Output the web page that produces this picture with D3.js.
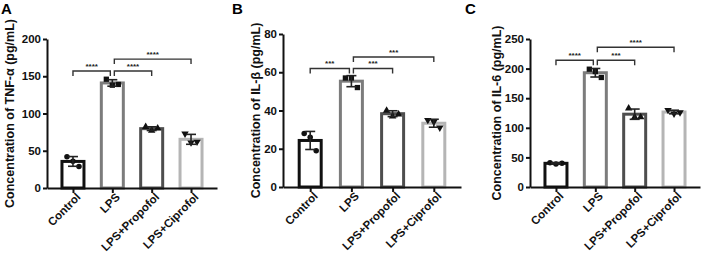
<!DOCTYPE html>
<html>
<head>
<meta charset="utf-8">
<script src="https://cdn.jsdelivr.net/npm/d3@7"></script>
<style>
  body { margin: 0; background: #fff; }
</style>
</head>
<body>
<script>
var width = 702, height = 258;

var groups = ["Control", "LPS", "LPS+Propofol", "LPS+Ciprofol"];
var barColors = ["#111111", "#7c7c7c", "#4e4e4e", "#b5b5b5"];
var shapes = [d3.symbolCircle, d3.symbolSquare, d3.symbolTriangle, "down"];

// replicate values per group
var tnfValues = [[42, 36, 29], [146, 138, 139], [82, 77, 80], [73, 61, 62]];
var il1bValues = [[28, 26, 19], [57, 57, 52], [40, 37, 38], [35, 34, 31]];
var il6Values = [[41, 39, 40], [199, 195, 185], [133, 118, 118], [130, 124, 126]];

var tnfTicks = [0, 50, 100, 150, 200];
var il1bTicks = [0, 20, 40, 60, 80];
var il6Ticks = [0, 50, 100, 150, 200, 250];

// brackets: [from group, to group, level, stars]
var tnfSig = [[0, 1, 157, "****"], [1, 2, 157, "****"], [1, 3, 173, "****"]];
var il1bSig = [[0, 1, 62, "***"], [1, 2, 62, "***"], [1, 3, 68, "***"]];
var il6Sig = [[0, 1, 214, "****"], [1, 2, 214, "***"], [1, 3, 236, "****"]];

var panels = [
  {letter: "A", lx: 1, title: "Concentration of TNF-\u03b1 (pg/mL)", values: tnfValues, ticks: tnfTicks, sig: tnfSig,
   max: 200, x0: 47, x1: 217, yTop: 39, yBot: 188, labelX: 10},
  {letter: "B", lx: 232, title: "Concentration of IL-\u03b2 (pg/mL)", values: il1bValues, ticks: il1bTicks, sig: il1bSig,
   max: 80, x0: 283, x1: 461, yTop: 34, yBot: 187, labelX: 256},
  {letter: "C", lx: 465, title: "Concentration of IL-6 (pg/mL)", values: il6Values, ticks: il6Ticks, sig: il6Sig,
   max: 250, x0: 530, x1: 700, yTop: 39, yBot: 187, labelX: 497}
];

var svg = d3.select("body").append("svg")
    .attr("width", width)
    .attr("height", height);

var jitter = [-6, 0, 6];

panels.forEach(function(p) {
  var g = svg.append("g");
  var x = d3.scalePoint().domain(groups).range([p.x0, p.x1]).padding(0.66);
  var y = d3.scaleLinear().domain([0, p.max]).range([p.yBot, p.yTop]);

  g.append("text")
    .attr("x", p.lx).attr("y", 14)
    .style("font-size", "15px")
    .text(p.letter);

  // bars
  p.values.forEach(function(vals, i) {
    var m = d3.mean(vals), sd = d3.deviation(vals);
    var cx = x(groups[i]);
    g.append("rect")
      .attr("x", cx - 11).attr("y", y(m))
      .attr("width", 22).attr("height", y(0) - y(m))
      .attr("fill", "white")
      .attr("stroke", barColors[i])
      .attr("stroke-width", 3);

    vals.forEach(function(v, j) {
      var sym = shapes[i] === "down" ? d3.symbolTriangle : shapes[i];
      g.append("path")
        .attr("d", d3.symbol().type(sym).size(sym === d3.symbolSquare ? 28 : 24)())
        .attr("transform", "translate(" + (cx + jitter[j]) + "," + y(v) + ")" + (shapes[i] === "down" ? " rotate(180)" : ""))
        .attr("fill", "#111");
    });

    var eb = g.append("g").attr("stroke", "#222").attr("stroke-width", 1.6);
    eb.append("line").attr("x1", cx).attr("x2", cx).attr("y1", y(m + sd)).attr("y2", y(m - sd));
    eb.append("line").attr("x1", cx - 5).attr("x2", cx + 5).attr("y1", y(m + sd)).attr("y2", y(m + sd));
    eb.append("line").attr("x1", cx - 5).attr("x2", cx + 5).attr("y1", y(m - sd)).attr("y2", y(m - sd));
  });

  // y axis
  var ya = g.append("g")
    .attr("transform", "translate(" + p.x0 + ",0)")
    .call(d3.axisLeft(y).tickValues(p.ticks).tickSize(4).tickPadding(2).tickSizeOuter(0));
  ya.select(".domain").attr("stroke", "#111").attr("stroke-width", 2);
  ya.selectAll(".tick line").attr("stroke", "#111").attr("stroke-width", 2);
  ya.selectAll(".tick text").style("font-size", "11.5px").attr("fill", "#111");

  // x axis
  var xa = g.append("g")
    .attr("transform", "translate(0," + p.yBot + ")")
    .call(d3.axisBottom(x).tickSize(5).tickSizeOuter(0));
  xa.select(".domain").attr("stroke", "#111").attr("stroke-width", 2);
  xa.selectAll(".tick line").attr("stroke", "#111").attr("stroke-width", 2);
  xa.selectAll(".tick text")
    .style("font-size", "11.5px")
    .attr("fill", "#111")
    .attr("text-anchor", "end")
    .attr("transform", "translate(5,7) rotate(-45)")
    .attr("dy", "0.35em")
    .attr("y", 0).attr("x", 0);

  // y label
  g.append("text")
    .attr("transform", "translate(" + p.labelX + "," + ((p.yTop + p.yBot) / 2) + ") rotate(-90)")
    .attr("text-anchor", "middle")
    .attr("dy", "0.35em")
    .style("font-size", "12.5px")
    .attr("fill", "#111")
    .text(p.title);

  // significance brackets
  p.sig.forEach(function(s) {
    var xa0 = x(groups[s[0]]) + (s[0] === 1 ? 2 : 0);
    var xa1 = x(groups[s[1]]) - (s[1] === 1 ? 2 : 0);
    var yy = y(s[2]);
    g.append("path")
      .attr("d", "M" + xa0 + "," + (yy + 5) + "V" + yy + "H" + xa1 + "V" + (yy + 5))
      .attr("fill", "none")
      .attr("stroke", "#333")
      .attr("stroke-width", 1.4);
    g.append("text")
      .attr("x", (xa0 + xa1) / 2).attr("y", yy - 2)
      .attr("text-anchor", "middle")
      .style("font-size", "8px")
      .attr("fill", "#222")
      .text(s[3]);
  });
});

svg.selectAll("text")
  .style("font-family", "'Liberation Sans', Arial, sans-serif")
  .style("font-weight", "bold");
</script>
</body>
</html>
